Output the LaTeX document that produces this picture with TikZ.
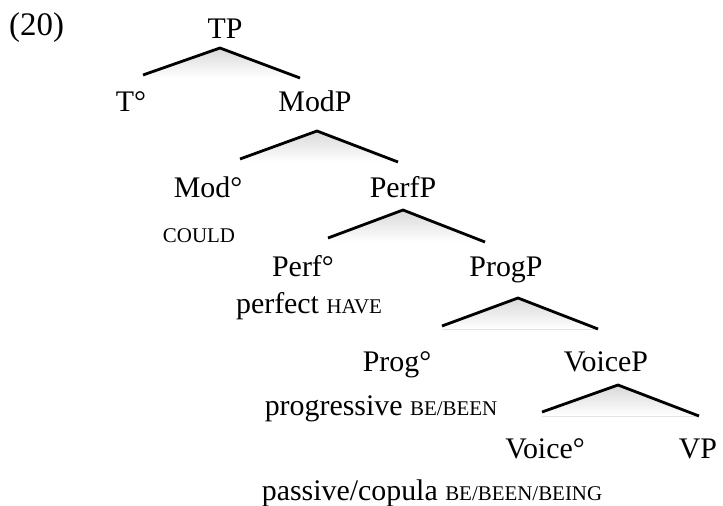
\documentclass[tikz,border=0pt]{standalone}
\usepackage{fontspec}
\setmainfont{Liberation Serif}
\newcommand\smc[1]{{\fontsize{21}{21}\selectfont #1}}
\tikzset{
  lbl/.style={anchor=base, inner sep=0pt, font=\fontsize{30}{36}\selectfont},
  branch/.style={line width=2.8bp, line cap=butt, line join=miter},
  glow/.style={top color=gray!30, bottom color=white, draw=none}
}
\newcommand\tri[4]{%
  \coordinate (#1l) at #2; \coordinate (#1a) at #3; \coordinate (#1r) at #4;
  \fill[glow] (#1a) -- (#1l) -- (#1l |- #1r) -- (#1r) -- cycle;
  \draw[branch] (#1l) -- (#1a) -- (#1r);}
\begin{document}
\begin{tikzpicture}[x=1bp,y=-1bp]
\useasboundingbox[fill=white] (0,0) rectangle (723,506);
\node[lbl, anchor=base west, font=\fontsize{33}{36}\selectfont] (ex) at (9,36) {(20)};
\node[lbl] (tp) at (225,39) {TP};
\tri{a}{(143,75)}{(220,48)}{(300,78)}
\node[lbl] (t) at (131,112) {T°};
\node[lbl] (modp) at (315,112) {ModP};
\tri{b}{(240,159)}{(317,131)}{(398,162)}
\node[lbl] (mod) at (208,198) {Mod°};
\node[lbl] (perfp) at (403,198) {PerfP};
\node[lbl] (could) at (199,243) {\smc{COULD}};
\tri{c}{(328,238)}{(403,210)}{(485,242)}
\node[lbl] (perf) at (303,277) {Perf°};
\node[lbl] (progp) at (506,277) {ProgP};
\node[lbl] (have) at (309,313) {perfect \smc{HAVE}};
\tri{d}{(442,326)}{(518,298)}{(598,329)}
\node[lbl] (prog) at (397,371) {Prog°};
\node[lbl] (voicep) at (606,371) {VoiceP};
\node[lbl] (be) at (381,415) {progressive \smc{BE/BEEN}};
\tri{e}{(542,412)}{(618,385)}{(699,416)}
\node[lbl] (voice) at (545,458) {Voice°};
\node[lbl] (vp) at (698,458) {VP};
\node[lbl] (pass) at (432,500) {passive/copula \smc{BE/BEEN/BEING}};
\end{tikzpicture}
\end{document}
